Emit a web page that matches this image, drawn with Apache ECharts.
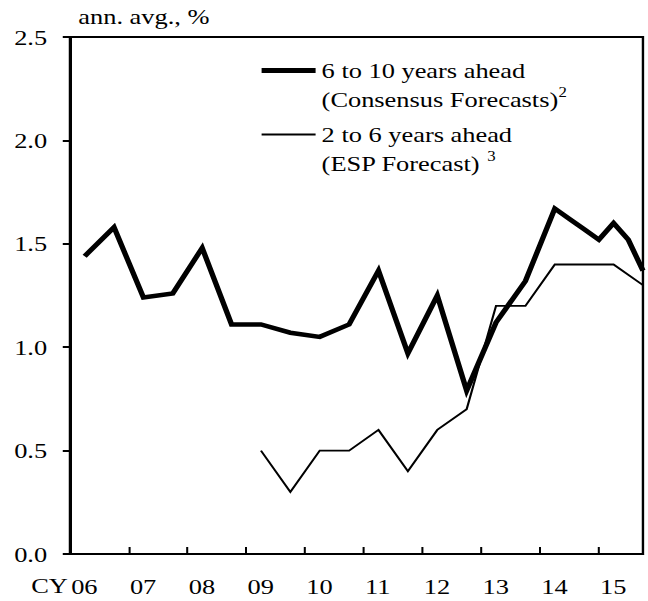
<!DOCTYPE html>
<html>
<head>
<meta charset="utf-8">
<script src="https://cdn.jsdelivr.net/npm/echarts@6/dist/echarts.min.js"></script>
<style>
html,body{margin:0;padding:0;background:#fff;overflow:hidden;}
#wrap{width:648px;height:601px;overflow:hidden;}
#chart{width:540px;height:601px;transform:scaleX(1.2);transform-origin:0 0;}
</style>
</head>
<body>
<div id="wrap"><div id="chart"></div></div>
<script>
// ---- data ----
const consensusDates = ['2006-04','2006-10','2007-04','2007-10','2008-04','2008-10','2009-04','2009-10','2010-04','2010-10','2011-04','2011-10','2012-04','2012-10','2013-04','2013-10','2014-04','2014-07','2014-10','2015-01','2015-04','2015-07','2015-10'];
const consensusValues = [1.44,1.58,1.24,1.26,1.48,1.11,1.11,1.07,1.05,1.11,1.37,0.97,1.25,0.79,1.12,1.32,1.67,1.62,1.57,1.52,1.60,1.52,1.37];
const espDates = ['2009-04','2009-10','2010-04','2010-10','2011-04','2011-10','2012-04','2012-10','2013-04','2013-10','2014-04','2014-10','2015-04','2015-10'];
const espValues = [0.5,0.3,0.5,0.5,0.6,0.4,0.6,0.7,1.2,1.2,1.4,1.4,1.4,1.3];
const seriesNames = ['6 to 10 years ahead','2 to 6 years ahead'];
const seriesSubLines = ['(Consensus Forecasts)','(ESP Forecast) '];
const seriesNotes = ['2','3'];
const yTicks = [0,0.5,1.0,1.5,2.0,2.5];
const xFirstYear = 2006;
const yTitle = 'ann. avg., %';
const xPrefix = 'CY';

function toYear(s){const p=s.split('-');return +p[0]+(+p[1]-1)/12;}
function pairs(d,v){return d.map((s,i)=>[toYear(s),v[i]]);}

const FONT = '"Liberation Serif","Times New Roman",serif';
const chart = echarts.init(document.getElementById('chart'), null, {renderer:'svg'});

function legendFmt(idx){
  return function(){
    return ' \n' + seriesNames[idx] + '\n' + seriesSubLines[idx] + '{sup|' + seriesNotes[idx] + '}';
  };
}
const legendText = {fontFamily:FONT,fontSize:22,color:'#000',lineHeight:29,
  rich:{sup:{fontFamily:FONT,fontSize:14,color:'#000',verticalAlign:'top',lineHeight:14}}};

chart.setOption({
  animation:false,
  backgroundColor:'#fff',
  grid:{left:58.3,right:4.2,top:37,bottom:47,show:true,borderColor:'#000',borderWidth:2,backgroundColor:'transparent'},
  xAxis:{type:'value',min:xFirstYear,max:toYear(consensusDates[consensusDates.length-1]),interval:1,
    axisLine:{lineStyle:{color:'#000',width:2}},
    axisTick:{inside:true,length:7,lineStyle:{color:'#000',width:1.7}},
    axisLabel:{showMaxLabel:false,align:'left',margin:21,padding:[0,0,0,1],color:'#000',fontFamily:FONT,fontSize:22,
      formatter:v=>String(v%100).padStart(2,'0')},
    splitLine:{show:false}},
  yAxis:{type:'value',min:yTicks[0],max:yTicks[yTicks.length-1],interval:yTicks[1]-yTicks[0],
    name:yTitle,nameLocation:'end',nameGap:10,
    nameTextStyle:{align:'left',verticalAlign:'bottom',padding:[0,0,0,7],color:'#000',fontFamily:FONT,fontSize:22},
    axisLine:{lineStyle:{color:'#000',width:2}},
    axisTick:{inside:false,length:6,lineStyle:{color:'#000',width:2}},
    axisLabel:{margin:19,color:'#000',fontFamily:FONT,fontSize:22,formatter:v=>v.toFixed(1)},
    splitLine:{show:false}},
  legend:[
    {data:[{name:seriesNames[0],icon:'rect'}],left:218,top:27,itemWidth:45,itemHeight:5,itemGap:0,
      itemStyle:{color:'#000',borderWidth:0},formatter:legendFmt(0),textStyle:legendText,padding:0},
    {data:[{name:seriesNames[1],icon:'rect'}],left:218,top:91,itemWidth:45,itemHeight:2,itemGap:0,
      itemStyle:{color:'#000',borderWidth:0},formatter:legendFmt(1),textStyle:legendText,padding:0}
  ],
  graphic:[{type:'text',left:26,top:574,style:{text:xPrefix,font:'22px '+FONT,fill:'#000'}}],
  series:[
    {name:seriesNames[0],type:'line',symbol:'none',data:pairs(consensusDates,consensusValues),
      lineStyle:{color:'#000',width:4.5,join:'miter'},itemStyle:{color:'#000'}},
    {name:seriesNames[1],type:'line',symbol:'none',data:pairs(espDates,espValues),
      lineStyle:{color:'#000',width:1.8,join:'miter'},itemStyle:{color:'#000'}}
  ]
});
</script>
</body>
</html>
